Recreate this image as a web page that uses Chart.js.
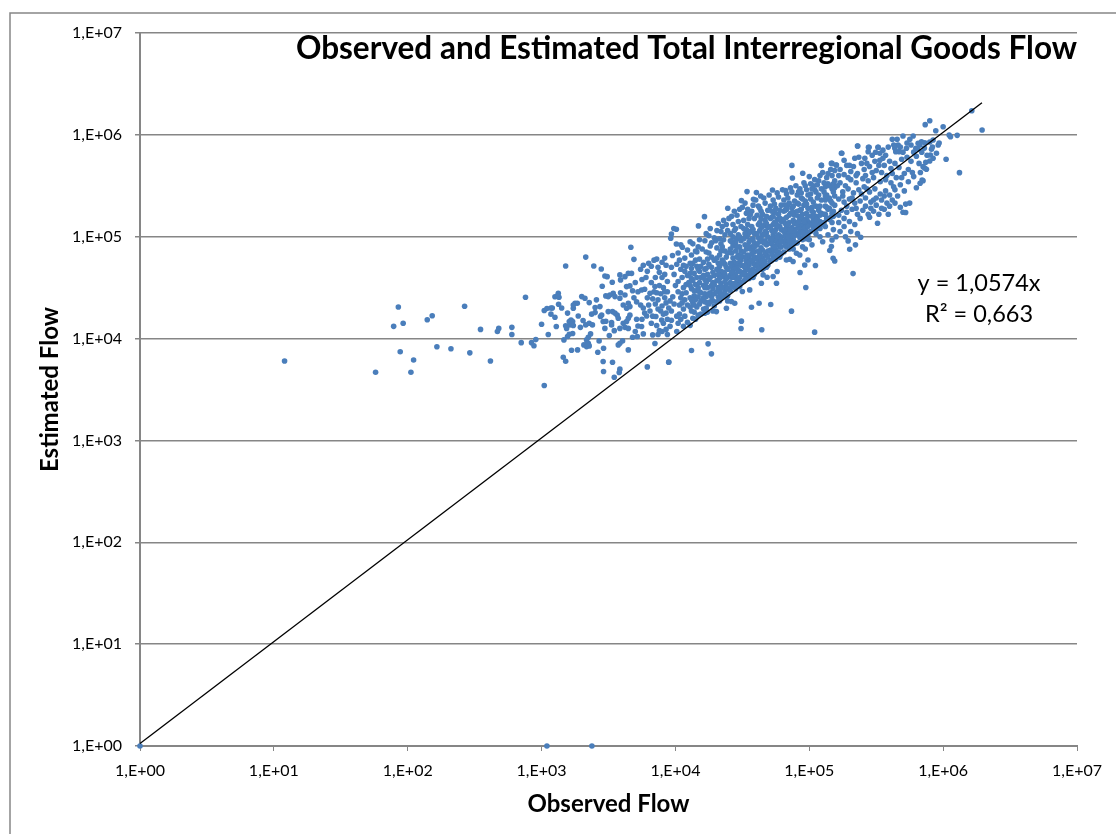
<!DOCTYPE html>
<html>
<head>
<meta charset="utf-8">
<title>Observed and Estimated Total Interregional Goods Flow</title>
<script src="https://cdn.jsdelivr.net/npm/chart.js@4/dist/chart.umd.min.js"></script>
<style>
  body { margin: 0; background: #fff; }
  canvas { display: block; }
</style>
</head>
<body>
<canvas id="flowChart" width="1116" height="834"></canvas>
<script>
// all flows as [log10 observed, log10 estimated]
var axisPoints = [[0,0],[3.04,0],[3.376,0]];

var tailFlows = [
  [1.08,3.78],[1.76,3.67],[1.93,4.31],[1.895,4.12],[1.966,4.15],[1.944,3.87],[2.044,3.79],[2.024,3.67],
  [2.146,4.185],[2.183,4.224],[2.218,3.92],[2.323,3.90],[2.425,4.317],[2.464,3.86],[2.544,4.09],[2.618,3.78],
  [2.67,4.07],[2.68,4.10],[2.778,4.11],[2.778,4.04],[2.848,3.96],[2.88,4.405],[2.925,3.96],[2.943,3.93],[2.957,3.99]
];

var lowerFlows = [
  [3.02,3.54],[3.0,4.14],[3.05,4.04],[3.02,4.275],[3.04,4.295],[3.07,4.30],[3.08,4.30],[3.07,4.24],[3.10,4.21],
  [3.10,4.41],[3.125,4.445],[3.13,4.405],[3.12,4.42],[3.127,4.337],[3.15,4.30],[3.11,4.118],[3.18,4.713],[3.194,4.25],
  [3.18,4.125],[3.187,4.10],[3.207,4.167],[3.22,4.183],[3.232,4.167],[3.237,4.128],[3.212,4.134],[3.227,4.144],
  [3.167,3.987],[3.194,4.02],[3.207,4.043],[3.232,4.05],[3.162,3.817],[3.18,3.778],[3.224,3.886],[3.269,3.889],
  [3.237,4.298],[3.25,4.347],[3.267,4.347],[3.237,4.33],[3.274,4.222],[3.31,4.177],[3.29,4.11],[3.33,4.134],
  [3.30,4.412],[3.324,4.396],[3.356,4.353],[3.33,4.80],[3.39,4.713],[3.446,4.683],[3.41,4.38],[3.40,4.304],[3.436,4.314],
  [3.374,4.24],[3.40,4.255],[3.449,4.232],[3.44,4.216],[3.356,4.15],[3.38,4.134],[3.366,4.046],[3.349,4.013],[3.336,3.987],
  [3.316,3.938],[3.336,3.921],[3.349,3.954],[3.356,3.928],[3.34,3.948],[3.43,3.977],[3.463,3.905],[3.42,3.866],
  [3.453,4.513],[3.473,4.615],[3.49,4.608],[3.528,4.553],[3.46,4.167],[3.48,4.17],[3.473,4.10],[3.506,4.03],[3.543,4.078],
  [3.523,4.157],[3.523,4.134],[3.498,4.265],[3.53,4.265],[3.548,4.25],[3.48,4.419],[3.498,4.412],[3.46,3.775],[3.53,3.768],
  [3.463,3.676],[3.543,3.62],[3.585,3.70],[3.58,3.667],[3.667,4.896],[3.69,4.778],[3.573,3.938],[3.585,3.954],[3.605,3.977],
  [3.648,3.889],[3.79,3.722],[3.95,3.768],[3.847,3.951],[3.585,4.625],[3.59,4.576],[3.623,4.608],[3.648,4.64],[3.672,4.64],
  [3.635,4.51],[3.66,4.517],[3.59,4.45],[3.623,4.428],[3.585,4.396],[3.535,4.445],[3.548,4.412],[3.51,4.428],
  [3.61,4.33],[3.648,4.347],[3.635,4.298],[3.66,4.314],[3.573,4.20],[3.565,4.23],[3.61,4.15],[3.648,4.20],[3.66,4.23],[3.635,4.167],
  [3.585,4.10],[3.623,4.11],[3.648,4.10],[3.68,4.013],[3.715,4.02],[3.70,4.07],[3.72,4.124],[3.747,4.118],[3.71,4.19],
  [3.76,4.046],[3.83,4.036],[3.87,4.04],[3.82,4.15],[3.86,4.128],[3.88,4.078],[3.75,4.19],[3.785,4.222],[3.854,4.216],[3.897,4.183],
  [3.72,4.46],[3.747,4.477],[3.77,4.484],[3.81,4.445],[3.847,4.51],[3.79,4.40],[3.83,4.39],[3.85,4.34],[3.80,4.33],
  [3.74,4.33],[3.76,4.30],[3.69,4.40],[3.71,4.36],[3.68,4.47],[3.70,4.55],[3.75,4.58],[3.78,4.60],[3.74,4.68],[3.76,4.72],
  [3.79,4.66],[3.80,4.74],[3.82,4.71],[3.84,4.77],[3.86,4.78],[3.87,4.70],[3.90,4.75],[3.92,4.79],[3.93,4.72],[3.88,4.65],
  [3.85,4.60],[3.90,4.60],[3.92,4.63],[3.88,4.52],[3.91,4.50],[3.94,4.56],[3.89,4.44],[3.92,4.40],[3.94,4.46],[3.87,4.38],
  [3.90,4.32],[3.93,4.35],[3.89,4.27],[3.93,4.25],[3.94,4.19],[3.91,4.15],[3.93,4.09],[3.90,4.07],[3.94,4.04],[3.97,4.18],[3.84,4.46],
  [3.77,4.25],[3.81,4.27],[3.83,4.22],[3.87,4.29],[3.91,4.24],[3.95,4.30],[3.96,4.37],[3.92,4.46],[3.86,4.45],[3.82,4.55]
];

var coreFlows = [
  [3.96,4.12],[3.98,4.41],[3.97,4.27],[4.01,4.07],[3.99,4.63],[4.03,4.33],[4.0,4.52],[4.04,4.19],[3.97,4.70],[4.02,4.46],
  [4.06,4.12],[4.01,4.73],[4.05,4.60],[4.03,4.24],[4.07,4.38],[4.04,4.68],[3.99,4.34],[4.08,4.53],[4.02,4.56],[4.06,4.29],
  [4.09,4.16],[4.05,4.44],[4.08,4.71],[4.07,4.22],[4.03,4.77],[4.09,4.62],[4.01,4.22],[4.06,4.50],[4.09,4.33],[4.04,4.40],
  [4.08,4.45],[4.07,4.66],[4.10,4.55],[4.02,4.15],[4.05,4.35],
  [4.11,4.13],[4.14,4.42],[4.12,4.27],[4.16,4.71],[4.13,4.57],[4.18,4.34],[4.11,4.64],[4.15,4.19],[4.17,4.50],[4.12,4.82],
  [4.19,4.24],[4.14,4.64],[4.16,4.31],[4.11,4.40],[4.18,4.78],[4.13,4.35],[4.19,4.60],[4.15,4.53],[4.12,4.49],[4.17,4.41],
  [4.14,4.26],[4.18,4.66],[4.16,4.85],[4.13,4.74],[4.19,4.45],[4.11,4.52],[4.17,4.23],[4.15,4.38],[4.12,4.69],[4.18,4.55],
  [4.14,4.33],[4.19,4.37],[4.16,4.60],[4.13,4.20],[4.17,4.68],[4.15,4.77],[4.11,4.31],[4.18,4.46],[4.16,4.47],[4.12,4.38],
  [4.21,4.29],[4.25,4.58],[4.23,4.41],[4.27,4.80],[4.22,4.68],[4.28,4.37],[4.24,4.26],[4.29,4.62],[4.21,4.52],[4.26,4.45],
  [4.23,4.85],[4.28,4.55],[4.25,4.34],[4.22,4.44],[4.27,4.70],[4.29,4.32],[4.24,4.63],[4.21,4.75],[4.26,4.91],[4.28,4.49],
  [4.23,4.30],[4.25,4.73],[4.27,4.41],[4.22,4.58],[4.29,4.77],[4.24,4.50],[4.26,4.36],[4.21,4.40],[4.28,4.65],[4.23,4.55],
  [4.25,4.44],[4.29,4.44],[4.22,4.36],[4.27,4.52],[4.24,4.78],[4.26,4.60],[4.21,4.62],[4.28,4.27],[4.23,4.69],[4.25,4.84],
  [4.31,4.36],[4.35,4.61],[4.33,4.47],[4.37,4.86],[4.32,4.74],[4.38,4.42],[4.34,4.93],[4.39,4.68],[4.31,4.57],[4.36,4.50],
  [4.33,4.82],[4.38,4.59],[4.35,4.40],[4.32,4.50],[4.37,4.73],[4.39,4.37],[4.34,4.66],[4.31,4.79],[4.36,4.97],[4.38,4.53],
  [4.33,4.37],[4.35,4.77],[4.37,4.46],[4.32,4.63],[4.39,4.84],[4.34,4.54],[4.36,4.42],[4.31,4.46],[4.38,4.70],[4.33,4.59],
  [4.35,4.50],[4.39,4.49],[4.32,4.41],[4.37,4.56],[4.34,4.86],[4.36,4.65],[4.31,4.68],[4.38,4.80],[4.33,4.71],[4.35,4.90],
  [4.37,4.63],[4.31,4.89],[4.39,4.60],[4.36,4.75],[4.34,4.44],
  [4.41,4.47],[4.45,4.72],[4.43,4.53],[4.47,5.02],[4.42,4.84],[4.48,4.51],[4.44,5.06],[4.49,4.77],[4.41,4.62],[4.46,4.56],
  [4.43,4.91],[4.48,4.66],[4.45,4.49],[4.42,4.60],[4.47,4.82],[4.49,4.55],[4.44,4.75],[4.41,4.88],[4.46,4.98],[4.48,4.90],
  [4.43,4.68],[4.45,4.86],[4.47,4.58],[4.42,4.71],[4.49,4.96],[4.44,4.60],[4.46,4.52],[4.41,4.55],[4.48,4.78],[4.43,4.79],
  [4.45,4.63],[4.49,4.65],[4.42,4.51],[4.47,4.67],[4.44,4.95],[4.46,4.80],[4.41,4.74],[4.48,5.00],[4.43,5.00],[4.45,4.94],
  [4.47,4.74],[4.42,4.95],[4.49,4.86],[4.46,4.69],[4.44,4.54],[4.41,4.96],[4.48,4.60],[4.43,4.61],[4.46,4.90],[4.49,4.72],
  [4.51,4.56],[4.55,4.80],[4.53,4.62],[4.57,5.10],[4.52,4.92],[4.58,4.60],[4.54,5.12],[4.59,4.85],[4.51,4.71],[4.56,4.64],
  [4.53,5.00],[4.58,4.75],[4.55,4.59],[4.52,4.66],[4.57,4.90],[4.59,4.63],[4.54,4.82],[4.51,4.98],[4.56,5.05],[4.58,4.98],
  [4.53,4.76],[4.55,4.95],[4.57,4.67],[4.52,4.80],[4.59,5.03],[4.54,4.68],[4.56,4.60],[4.51,4.63],[4.58,4.86],[4.53,4.88],
  [4.55,4.72],[4.59,4.73],[4.52,4.58],[4.57,4.77],[4.54,5.02],[4.56,4.88],[4.51,4.85],[4.58,5.07],[4.53,5.07],[4.55,5.04],
  [4.57,4.83],[4.52,5.03],[4.59,4.94],[4.56,4.76],[4.54,4.91],[4.51,5.08],[4.58,4.68],[4.53,4.70],[4.56,4.97],[4.59,4.80],
  [4.61,4.66],[4.65,4.87],[4.63,4.72],[4.67,5.16],[4.62,4.99],[4.68,4.70],[4.64,5.18],[4.69,4.93],[4.61,4.78],[4.66,4.73],
  [4.63,5.06],[4.68,4.82],[4.65,4.68],[4.62,4.74],[4.67,4.96],[4.69,4.72],[4.64,4.89],[4.61,5.03],[4.66,5.11],[4.68,5.04],
  [4.63,4.83],[4.65,5.02],[4.67,4.76],[4.62,4.86],[4.69,5.09],[4.64,4.77],[4.66,4.69],[4.61,4.71],[4.68,4.92],[4.63,4.95],
  [4.65,4.79],[4.69,4.80],[4.62,5.12],[4.67,4.84],[4.64,5.09],[4.66,4.94],[4.61,4.92],[4.68,5.13],[4.63,5.14],[4.65,5.10],
  [4.67,5.05],[4.62,4.68],[4.69,5.00],[4.66,5.02],[4.64,4.98],
  [4.71,4.76],[4.75,4.96],[4.73,4.81],[4.77,5.22],[4.72,5.06],[4.78,4.80],[4.74,5.24],[4.79,5.00],[4.71,4.87],[4.76,4.82],
  [4.73,5.12],[4.78,4.90],[4.75,4.78],[4.72,4.83],[4.77,5.02],[4.79,4.83],[4.74,4.97],[4.71,5.10],[4.76,5.17],[4.78,5.10],
  [4.73,4.91],[4.75,5.07],[4.77,4.85],[4.72,4.93],[4.79,5.15],[4.74,4.86],[4.76,4.92],[4.71,5.18],[4.78,4.98],[4.73,5.02],
  [4.75,4.87],[4.79,5.07],[4.72,5.19],[4.77,4.93],[4.74,5.05],[4.76,5.00],[4.71,4.97],[4.78,5.18],[4.73,5.20],[4.75,5.14],
  [4.77,5.10],[4.72,4.77],[4.79,4.90],[4.76,5.11],[4.74,5.14],
  [4.81,4.85],[4.85,5.03],[4.83,4.90],[4.87,5.28],[4.82,5.13],[4.88,4.88],[4.84,5.31],[4.89,5.07],[4.81,4.96],[4.86,4.91],
  [4.83,5.19],[4.88,4.97],[4.85,4.88],[4.82,4.92],[4.87,5.09],[4.89,4.93],[4.84,5.04],[4.81,5.17],[4.86,5.23],[4.88,5.16],
  [4.83,4.99],[4.85,5.14],[4.87,4.93],[4.82,5.01],[4.89,5.21],[4.84,4.95],[4.86,5.00],[4.81,5.25],[4.88,5.05],[4.83,5.09],
  [4.85,4.96],[4.89,5.13],[4.82,5.26],[4.87,5.01],[4.84,5.12],[4.86,5.07],[4.81,5.05],[4.88,5.24],[4.83,5.27],[4.85,5.21],
  [4.91,4.94],[4.95,5.11],[4.93,4.99],[4.97,5.35],[4.92,5.20],[4.98,4.98],[4.94,5.38],[4.99,5.15],[4.91,5.03],[4.96,5.00],
  [4.93,5.26],[4.98,5.05],[4.95,4.97],[4.92,5.02],[4.97,5.17],[4.99,5.02],[4.94,5.11],[4.91,5.25],[4.96,5.31],[4.98,5.23],
  [4.93,5.06],[4.95,5.22],[4.97,5.02],[4.92,5.09],[4.99,5.28],[4.94,5.04],[4.96,5.08],[4.91,5.33],[4.98,5.12],[4.93,5.16],
  [4.95,5.04],[4.99,5.20],[4.92,5.32],[4.97,5.09],[4.94,5.19],[4.96,5.15],[4.91,5.12],[4.98,5.32],
  [5.01,5.05],[5.05,5.20],[5.03,5.09],[5.07,5.41],[5.02,5.29],[5.08,5.08],[5.04,5.46],[5.09,5.23],[5.01,5.13],[5.06,5.10],
  [5.03,5.34],[5.08,5.15],[5.05,5.07],[5.02,5.12],[5.07,5.26],[5.09,5.12],[5.04,5.19],[5.01,5.37],[5.06,5.38],[5.08,5.30],
  [5.03,5.16],[5.05,5.30],[5.07,5.12],[5.02,5.20],[5.09,5.36],[5.04,5.13],[5.06,5.17],[5.01,5.42],[5.08,5.21],[5.03,5.24],
  [5.11,5.14],[5.15,5.28],[5.13,5.18],[5.17,5.47],[5.12,5.36],[5.18,5.20],[5.14,5.52],[5.19,5.31],[5.11,5.22],[5.16,5.19],
  [5.13,5.41],[5.18,5.25],[5.15,5.17],[5.12,5.22],[5.17,5.33],[5.19,5.40],[5.14,5.27],[5.11,5.44],[5.16,5.35],[5.18,5.44],
  [5.13,5.29],[5.15,5.38],[5.17,5.23],[5.12,5.30],[5.19,5.48]
];

// the top of the dense band, above coreFlows
var upperCoreFlows = [
  [4.02,4.84],[4.07,4.79],[4.11,4.74],[4.04,4.92],[4.09,4.87],[4.13,4.93],[4.06,4.72],[4.15,4.86],[4.18,4.97],[4.11,4.95],
  [4.20,4.88],[4.22,4.96],[4.17,4.90],[4.25,5.01],[4.27,4.94],[4.23,5.03],[4.29,4.99],[4.31,5.06],[4.26,5.08],[4.33,4.98],
  [4.35,5.10],[4.30,4.96],[4.37,5.02],[4.32,5.13],[4.39,5.06],[4.34,5.05],[4.36,5.16],[4.41,5.03],[4.38,5.12],[4.43,5.12],
  [4.40,5.18],[4.45,5.08],[4.42,5.20],[4.47,5.15],[4.44,5.25],[4.49,5.10],[4.46,5.21],[4.48,5.27],[4.51,5.16],[4.53,5.23],
  [4.50,5.29],[4.55,5.18],[4.52,5.33],[4.57,5.25],[4.54,5.27],[4.59,5.18],[4.56,5.22],[4.58,5.31],[4.61,5.21],[4.63,5.28],
  [4.60,5.36],[4.65,5.22],[4.62,5.30],[4.67,5.33],[4.64,5.25],[4.69,5.26],[4.66,5.38],[4.68,5.20],[4.71,5.30],[4.73,5.36],
  [4.70,5.41],[4.75,5.28],[4.72,5.25],[4.77,5.39],[4.74,5.32],[4.79,5.31],[4.76,5.43],[4.78,5.26],[4.81,5.36],[4.83,5.42],
  [4.80,5.46],[4.85,5.33],[4.82,5.31],[4.87,5.44],[4.84,5.38],[4.89,5.35],[4.86,5.48],[4.88,5.30],[4.91,5.41],[4.93,5.47],
  [4.90,5.50],[4.95,5.37],[4.92,5.44],[4.97,5.50],[4.94,5.43],[4.99,5.41],[4.96,5.53],[4.98,5.46],[5.01,5.52],[5.03,5.50],
  [5.00,5.59],[5.05,5.44],[5.02,5.47],[5.07,5.55],[5.04,5.56],[5.09,5.47],[5.06,5.51],[5.08,5.60],[5.11,5.53],[5.13,5.58],
  [5.10,5.63],[5.15,5.50],[5.12,5.49],[5.17,5.60],[5.14,5.62],[5.19,5.55],[5.16,5.66],[5.18,5.52],
  [4.14,4.47],[4.19,4.71],[4.24,4.35],[4.29,4.53],[4.34,4.74],[4.39,4.42],[4.44,4.68],[4.49,4.81],[4.54,4.74],[4.59,4.90],
  [4.64,4.81],[4.69,4.86],[4.74,4.90],[4.79,4.95],[4.84,5.00],[4.89,5.01],[4.94,5.27],[4.99,5.10],[4.12,4.59],[4.22,4.50],
  [4.32,4.57],[4.42,4.65],[4.52,4.72],[4.62,4.80],[4.72,4.98],[4.82,5.07],[4.92,5.15],[5.02,5.25],[5.12,5.40]
];

var upperFlows = [
  [6.214,6.237],[6.291,6.048],[5.90,6.139],[5.866,6.10],[6.0,6.08],[5.945,6.041],[6.045,5.999],[6.055,5.982],[6.105,5.995],
  [6.022,5.76],[6.122,5.629],[5.843,5.557],[5.828,5.525],[5.913,5.858],[5.905,5.802],[5.925,5.77],[5.90,5.744],[5.963,5.90],
  [5.925,5.95],[5.863,5.672],[5.85,5.688],[5.875,5.662],[5.813,5.917],[5.838,5.933],[5.796,5.868],[5.826,5.90],[5.863,5.923],
  [5.776,5.989],[5.751,5.956],[5.70,5.989],[5.656,5.956],[5.62,5.956],[5.664,5.90],[5.639,5.868],[5.671,5.835],[5.646,5.835],
  [5.631,5.90],[5.726,5.868],[5.514,5.878],[5.447,5.878],[5.44,5.835],[5.495,5.829],[5.527,5.819],[5.36,5.891],[5.24,5.819],
  [5.57,5.80],[5.55,5.77],[5.527,5.75],[5.49,5.74],[5.415,5.77],[5.34,5.77],[5.30,5.70],[5.39,5.72],[5.17,5.72],[5.09,5.70],
  [5.20,5.704],[5.28,5.70],[5.33,5.69],[5.23,5.66],[5.26,5.61],[5.31,5.64],[5.36,5.62],[5.41,5.66],[5.45,5.69],[5.50,5.65],
  [5.54,5.63],[5.58,5.60],[5.61,5.67],[5.64,5.72],[5.69,5.76],[5.73,5.78],[5.76,5.74],[5.80,5.79],[5.82,5.72],[5.60,5.74],
  [5.67,5.68],[5.71,5.62],[5.74,5.66],[5.78,5.59],[5.65,5.58],[5.61,5.53],[5.57,5.56],[5.53,5.54],[5.48,5.58],[5.44,5.55],
  [5.40,5.57],[5.35,5.53],[5.31,5.56],[5.27,5.50],[5.23,5.53],[5.25,5.44],[5.29,5.47],[5.33,5.43],[5.37,5.46],[5.41,5.49],
  [5.45,5.44],[5.49,5.47],[5.53,5.42],[5.57,5.45],[5.60,5.41],[5.64,5.46],[5.68,5.51],[5.71,5.45],[5.66,5.40],[5.62,5.36],
  [5.58,5.33],[5.54,5.36],[5.50,5.31],[5.46,5.34],[5.42,5.38],[5.38,5.35],[5.34,5.33],[5.30,5.37],[5.26,5.34],[5.22,5.37],
  [5.24,5.26],[5.28,5.24],[5.32,5.27],[5.36,5.22],[5.40,5.26],[5.44,5.22],[5.48,5.25],[5.52,5.22],[5.56,5.27],[5.59,5.22],
  [5.72,5.32],[5.75,5.33],[5.70,5.24],[5.68,5.29],[5.72,5.237],[5.51,5.132],[5.45,5.191],[5.384,4.995],[5.345,4.92],[5.302,4.877],
  [5.29,4.959],[5.178,4.789],[5.19,4.762],[5.153,4.864],[5.165,4.903],[5.17,4.968],[5.22,5.14],[5.26,5.10],[5.30,5.15],[5.34,5.12],
  [5.38,5.18],[5.23,5.05],[5.27,5.00],[5.31,5.05],[5.36,5.03],[5.20,5.00],[5.18,5.07],[5.14,5.02],[5.10,4.95],[5.08,5.00],
  [5.05,5.03],[5.02,4.92],[5.00,4.97],[4.97,4.88],[4.95,4.90],[5.12,5.10],[5.17,5.14],[5.22,5.21],[5.26,5.18],[5.42,5.30],
  [5.48,5.36],[5.54,5.28],[5.63,5.49],[5.69,5.58],[5.74,5.54],[5.77,5.63],[5.83,5.63],[5.87,5.73],[5.80,5.48],[5.85,5.55],
  [5.92,5.88],[5.97,5.92],[5.95,5.82],[5.88,5.80],[5.84,5.83],[5.78,5.83],[5.73,5.92],[5.68,5.88],[5.76,5.90],[5.81,5.86],
  [5.86,5.87],[5.90,5.93],[5.70,5.83],[5.59,5.88],[5.55,5.85],[5.47,5.80],[5.43,5.72],[5.37,5.78],[5.26,5.75],[5.22,5.60],
  [5.19,5.65],[5.21,5.50],[5.29,5.58],[5.35,5.60],[5.42,5.60],[5.47,5.63],[5.52,5.70],[5.56,5.70],[5.62,5.62],[5.39,5.42],
  [5.43,5.47],[5.25,5.40],[5.32,5.38],[5.28,5.30],[5.35,5.28],[5.46,5.28],[5.50,5.38],[5.56,5.40],[5.60,5.30],[5.64,5.33]
];

var belowLineFlows = [
  [3.95,3.77],[4.12,3.883],[4.244,3.948],[4.269,3.85],[4.493,4.171],[4.49,4.099],[4.645,4.086],[5.04,4.063],[4.867,4.269],
  [4.568,4.308],[4.625,4.347],[4.712,4.334],[4.974,4.501],[5.327,4.638],[5.046,4.717],[4.99,4.772],[4.966,4.723],[4.931,4.648],
  [4.76,4.658],[4.73,4.609],[4.755,4.543],[4.685,4.602],[4.642,4.543],[4.655,4.625],[4.555,4.478],[4.50,4.462],[4.443,4.347],
  [4.418,4.364],[4.381,4.298],[4.306,4.265],[4.219,4.249],[4.829,4.772],[4.854,4.779],[4.904,4.838],[4.929,4.821],[4.879,4.756]
];

var upperSparseFlows = [
  [4.87,5.70],[4.874,5.577],[4.951,5.623],[4.535,5.443],[4.605,5.433],[4.637,5.40],[4.493,5.354],[4.583,5.367],[4.725,5.459],
  [4.824,5.452],[4.217,5.197],[4.391,5.279],[4.172,5.106],[3.988,5.08],[4.007,5.073],[3.97,5.027],[3.965,4.985],[4.007,4.929],
  [4.052,4.897],[3.978,4.815],[5.243,5.819],[5.091,5.70],[5.165,5.72],[5.203,5.704],[5.362,5.891],[5.442,5.878],[5.514,5.878]
];

// trendline y = 1,0574x, drawn from the first to the last observed flow
var trendObserved = [1, 1950000];
var trendEstimated = [1.0574, 2061930];

var tickValues = [1, 10, 100, 1000, 10000, 100000, 1000000, 10000000];
var tickLabels = ['1,E+00', '1,E+01', '1,E+02', '1,E+03', '1,E+04', '1,E+05', '1,E+06', '1,E+07'];

var axisColor = '#868686';
var fontName = 'Lato, "Open Sans", sans-serif';

function toPoints(lists) {
  var points = [];
  lists.forEach(function (list) {
    list.forEach(function (p) {
      points.push({ x: Math.pow(10, p[0]), y: Math.pow(10, p[1]) });
    });
  });
  return points;
}

function decadeTicks(scale) {
  scale.ticks = tickValues.map(function (v) { return { value: v }; });
}

function tickText(value) {
  return tickLabels[tickValues.indexOf(value)];
}

// outer chart frame and the trendline label
var frameAndLabel = {
  id: 'frameAndLabel',
  beforeDraw: function (chart) {
    var ctx = chart.ctx;
    ctx.save();
    ctx.strokeStyle = axisColor;
    ctx.lineWidth = 1.5;
    ctx.beginPath();
    ctx.moveTo(10, 834);
    ctx.lineTo(10, 13);
    ctx.lineTo(1116, 13);
    ctx.stroke();
    ctx.restore();
  },
  afterDraw: function (chart) {
    var ctx = chart.ctx;
    ctx.save();
    ctx.fillStyle = '#000';
    ctx.font = '23.5px ' + fontName;
    ctx.textAlign = 'center';
    ctx.textBaseline = 'middle';
    ctx.fillText('y = 1,0574x', 979, 283);
    ctx.fillText('R² = 0,663', 979, 314);
    ctx.restore();
  }
};

new Chart(document.getElementById('flowChart'), {
  type: 'scatter',
  data: {
    datasets: [
      {
        label: 'Flows',
        data: toPoints([axisPoints, tailFlows, lowerFlows, coreFlows, upperCoreFlows, upperFlows, belowLineFlows, upperSparseFlows]),
        backgroundColor: '#4a7ebb',
        borderColor: '#4a7ebb',
        pointRadius: 2.8,
        borderWidth: 0,
        clip: false,
        order: 2
      },
      {
        label: 'Trend',
        type: 'line',
        data: trendObserved.map(function (x, i) { return { x: x, y: trendEstimated[i] }; }),
        borderColor: '#000',
        borderWidth: 1.3,
        pointRadius: 0,
        fill: false,
        clip: false,
        order: 1
      }
    ]
  },
  options: {
    responsive: false,
    animation: false,
    layout: { padding: { top: 33, right: 39, left: 0, bottom: 0 } },
    plugins: {
      legend: { display: false },
      tooltip: { enabled: false },
      title: {
        display: true,
        text: 'Observed and Estimated Total Interregional Goods Flow',
        align: 'end',
        fullSize: false,
        color: '#000',
        font: { family: fontName, size: 31.5, weight: 'bold', lineHeight: 1.2 },
        padding: { top: -3, bottom: -34.8 }
      }
    },
    scales: {
      x: {
        type: 'logarithmic',
        min: 1,
        max: 10000000,
        afterBuildTicks: decadeTicks,
        afterFit: function (scale) { scale.height = 88; },
        border: { color: axisColor, width: 2 },
        grid: { drawOnChartArea: false, color: axisColor, tickLength: 5 },
        ticks: {
          autoSkip: false,
          maxRotation: 0,
          padding: 10,
          color: '#000',
          font: { family: fontName, size: 16 },
          callback: tickText
        },
        title: {
          display: true,
          text: 'Observed Flow',
          color: '#000',
          font: { family: fontName, size: 24, weight: 'bold' },
          padding: { top: 4, bottom: 15 }
        }
      },
      y: {
        type: 'logarithmic',
        min: 1,
        max: 10000000,
        afterBuildTicks: decadeTicks,
        afterFit: function (scale) { scale.width = 140; },
        border: { color: axisColor, width: 2 },
        grid: { color: axisColor, lineWidth: 1.5, tickLength: 5 },
        ticks: {
          autoSkip: false,
          padding: 13,
          color: '#000',
          font: { family: fontName, size: 16 },
          callback: tickText
        },
        title: {
          display: true,
          text: 'Estimated Flow',
          color: '#000',
          font: { family: fontName, size: 24, weight: 'bold' },
          padding: { top: 36, bottom: 0 }
        }
      }
    }
  },
  plugins: [frameAndLabel]
});
</script>
</body>
</html>
